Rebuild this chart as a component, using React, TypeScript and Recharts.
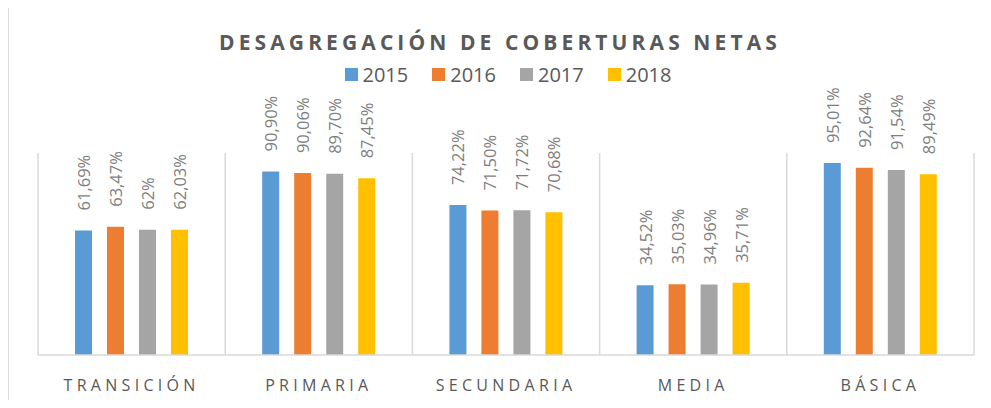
import { BarChart, Bar, XAxis, YAxis, CartesianGrid, LabelList } from "recharts";

const categories = ["TRANSICIÓN", "PRIMARIA", "SECUNDARIA", "MEDIA", "BÁSICA"];
const years = ["2015", "2016", "2017", "2018"];
const values2015 = [61.69, 90.9, 74.22, 34.52, 95.01];
const values2016 = [63.47, 90.06, 71.5, 35.03, 92.64];
const values2017 = [62, 89.7, 71.72, 34.96, 91.54];
const values2018 = [62.03, 87.45, 70.68, 35.71, 89.49];
const colors = ["#5B9BD5", "#ED7D31", "#A5A5A5", "#FFC000"];

const series = [values2015, values2016, values2017, values2018];

const data = categories.map((name, i) => {
  const row: Record<string, string | number> = { name };
  years.forEach((y, j) => {
    row[y] = series[j][i];
  });
  return row;
});

const fmt = (v: number) => {
  const s = Number.isInteger(v) ? String(v) : v.toFixed(2).replace(".", ",");
  return s + "%";
};

const FONT = "'Open Sans', 'Liberation Sans', sans-serif";

function CategoryTick(props: any) {
  const { x, y, payload } = props;
  return (
    <text
      x={x}
      y={y + 28}
      textAnchor="middle"
      fill="#595959"
      fontSize={16}
      fontFamily={FONT}
      letterSpacing={4.3}
    >
      {payload.value}
    </text>
  );
}

function RotatedLabel(props: any) {
  const { x, y, width, value } = props;
  const cx = x + width / 2;
  const cy = y - 20;
  return (
    <text
      x={cx}
      y={cy}
      transform={`rotate(-90 ${cx} ${cy})`}
      textAnchor="start"
      dominantBaseline="central"
      fill="#7F7F7F"
      fontSize={16.5}
      fontFamily={FONT}
    >
      {fmt(value)}
    </text>
  );
}

// category boundaries, from the plot offset laid out by recharts
const boundaryLines = ({ offset }: any) =>
  categories.map((_, i) => offset.left + (i * offset.width) / categories.length).concat(offset.left + offset.width);

export default function App() {
  return (
    <div style={{ margin: -8, width: 991, height: 408, position: "relative", background: "#fff", overflow: "hidden" }}>
      <div
        style={{
          position: "absolute",
          left: 8,
          top: 7,
          width: 1000,
          height: 420,
          border: "1.5px solid #D9D9D9",
          boxSizing: "border-box",
        }}
      />
      <div
        style={{
          position: "absolute",
          left: 0,
          top: 28,
          width: 1000,
          textAlign: "center",
          fontFamily: FONT,
          fontWeight: 700,
          fontSize: 21,
          letterSpacing: 4.1,
          color: "#595959",
        }}
      >
        DESAGREGACIÓN DE COBERTURAS NETAS
      </div>
      <div
        style={{
          position: "absolute",
          left: 0,
          top: 61,
          width: 1016,
          display: "flex",
          justifyContent: "center",
          gap: 24,
          fontFamily: FONT,
          fontSize: 20,
          color: "#595959",
        }}
      >
        {years.map((y, j) => (
          <div key={y} style={{ display: "flex", alignItems: "center", gap: 5 }}>
            <span style={{ width: 13, height: 13, background: colors[j], display: "inline-block" }} />
            <span>{y}</span>
          </div>
        ))}
      </div>
      <BarChart
        width={991}
        height={408}
        data={data}
        margin={{ top: 153, right: 17, left: 38, bottom: 22 }}
        barSize={17}
        barGap={15}
        style={{ position: "absolute", left: 0, top: 0 }}
      >
        <CartesianGrid
          horizontal={false}
          vertical
          stroke="#D9D9D9"
          strokeWidth={1.5}
          verticalCoordinatesGenerator={boundaryLines}
        />
        <XAxis
          dataKey="name"
          height={31}
          tickLine={false}
          axisLine={{ stroke: "#D9D9D9", strokeWidth: 1.5 }}
          tick={<CategoryTick />}
          interval={0}
        />
        <YAxis hide domain={[0, 100]} />
        {years.map((y, j) => (
          <Bar key={y} dataKey={y} fill={colors[j]} isAnimationActive={false}>
            <LabelList dataKey={y} content={<RotatedLabel />} />
          </Bar>
        ))}
      </BarChart>
    </div>
  );
}
